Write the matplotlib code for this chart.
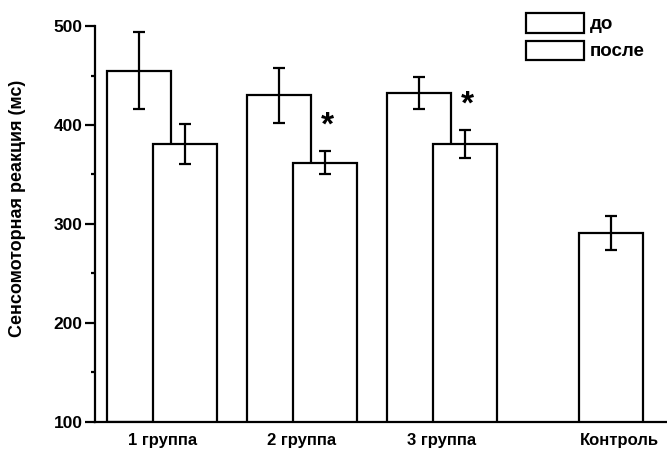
import matplotlib.pyplot as plt
from matplotlib.patches import Patch
from matplotlib.ticker import MultipleLocator

plt.rcParams['font.family'] = ['Liberation Sans', 'DejaVu Sans']

groups = ['1 группа', '2 группа', '3 группа']
before = [455, 430, 432]
before_err = [39, 28, 16]
after = [381, 362, 381]
after_err = [20, 12, 14]
control = 291
control_err = 17
stars = [False, True, True]
ctrl_label = 'Контроль'

fig = plt.figure(figsize=(6.67, 4.57), dpi=100)
ax = fig.add_axes([0.1424, 0.0766, 0.8576, 0.8665])

w = 0.46
off = 0.165
ctrl_pos = 3.21
cap = 4
lw = 1.6

for i in range(len(groups)):
    ax.bar(i - off, before[i] - 100, w, bottom=100, facecolor='white',
           edgecolor='black', linewidth=lw, zorder=2 + 2 * i)
    ax.errorbar(i - off, before[i], yerr=before_err[i], color='black',
                lw=lw, capsize=cap, capthick=lw, zorder=2 + 2 * i)
    ax.bar(i + off, after[i] - 100, w, bottom=100, facecolor='white',
           edgecolor='black', linewidth=lw, zorder=3 + 2 * i)
    ax.errorbar(i + off, after[i], yerr=after_err[i], color='black',
                lw=lw, capsize=cap, capthick=lw, zorder=3 + 2 * i)
    if stars[i]:
        ax.text(i + off + 0.02, after[i] + after_err[i] + 25, '*', ha='center',
                va='center', fontsize=24, fontweight='bold', zorder=10)

ax.bar(ctrl_pos, control - 100, w, bottom=100, facecolor='white',
       edgecolor='black', linewidth=lw, zorder=9)
ax.errorbar(ctrl_pos, control, yerr=control_err, color='black',
            lw=lw, capsize=cap, capthick=lw, zorder=9)

ax.set_xlim(-0.48, 3.61)
ax.set_ylim(100, 500)
ax.set_yticks([100, 200, 300, 400, 500])
ax.yaxis.set_minor_locator(MultipleLocator(50))
ax.tick_params(axis='y', which='major', length=7, width=lw, labelsize=12.5, pad=2)
ax.tick_params(axis='y', which='minor', length=3, width=lw)
for t in ax.get_yticklabels():
    t.set_fontweight('bold')
ax.set_xticks([0, 1, 2, ctrl_pos + 0.06])
ax.set_xticklabels(groups + [ctrl_label], fontsize=12, fontweight='bold')
ax.tick_params(axis='x', length=0, pad=8)
for sp in ['top', 'right']:
    ax.spines[sp].set_visible(False)
for sp in ['left', 'bottom']:
    ax.spines[sp].set_linewidth(lw)
ax.set_ylabel('Сенсомоторная реакция (мс)', fontsize=13, fontweight='bold')
ax.yaxis.set_label_coords(-0.12, 0.54)

handles = [Patch(facecolor='white', edgecolor='black', linewidth=lw),
           Patch(facecolor='white', edgecolor='black', linewidth=lw)]
ax.legend(handles, ['до', 'после'], loc='upper right',
          bbox_to_anchor=(0.98, 1.06), frameon=False,
          prop={'size': 13.5, 'weight': 'bold'},
          handlelength=3.1, handleheight=1.2, handletextpad=0.3,
          labelspacing=0.38, borderaxespad=0.2)

fig.savefig('out.png', dpi=100)
